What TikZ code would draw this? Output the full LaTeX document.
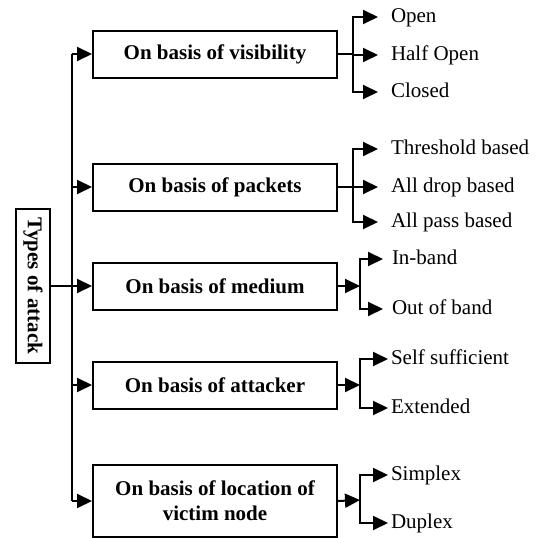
\documentclass[tikz,border=0pt]{standalone}
\usepackage{fontspec}
\setmainfont{Liberation Serif}
\usetikzlibrary{arrows.meta}
\begin{document}
\begin{tikzpicture}[x=1pt,y=-1pt,line width=2pt,
  tip/.style={-{Triangle[length=15pt,width=14pt]}},
  cat/.style={draw,line width=2pt,minimum width=244pt,minimum height=47pt,inner sep=0pt,
    align=center,font=\bfseries\fontsize{21}{25}\selectfont},
  leaf/.style={anchor=west,inner sep=0pt,text height=14pt,text depth=3pt,
    font=\fontsize{21}{25}\selectfont}]
\useasboundingbox (0,0) rectangle (542,538);

% root and categories
\node[draw,line width=2pt,rotate=-90,minimum width=154pt,minimum height=34pt,inner sep=0pt,
  font=\bfseries\fontsize{21}{25}\selectfont] (root) at (33,286) {Types of attack};
\node[cat] (vis) at (215,54) {On basis of visibility};
\node[cat] (pkt) at (215,187) {On basis of packets};
\node[cat] (med) at (215,286) {On basis of medium};
\node[cat] (att) at (215,385) {On basis of attacker};
\node[cat,minimum height=72pt] (loc) at (215,501) {On basis of location of\\victim node};

% leaves
\node[leaf] (v1) at (390,17) {Open};
\node[leaf] (v2) at (390,55) {Half Open};
\node[leaf] (v3) at (390,92) {Closed};
\node[leaf] (p1) at (390,149) {Threshold based};
\node[leaf] (p2) at (390,187) {All drop based};
\node[leaf] (p3) at (390,222) {All pass based};
\node[leaf] (m1) at (391,259) {In-band};
\node[leaf] (m2) at (391,309) {Out of band};
\node[leaf] (a1) at (390,359) {Self sufficient};
\node[leaf] (a2) at (390,408) {Extended};
\node[leaf] (l1) at (390,475) {Simplex};
\node[leaf] (l2) at (390,523) {Duplex};

% trunk on the left
\coordinate (tx) at (72,0);
\draw (tx |- vis.west) -- (tx |- loc.west);
\draw[tip] (root.north) -- (med.west);
\foreach \b in {vis,pkt,att,loc}
  \draw[tip] (tx |- \b.west) -- (\b.west);

% visibility branch
\coordinate (vb) at (353,54);
\draw (vis.east) -- (vb);
\foreach \l in {v1,v2,v3}
  \draw[tip] (vb) |- ([xshift=-12pt]\l.west);

% packets branch
\coordinate (pb) at (353,187);
\draw (pkt.east) -- (pb);
\foreach \l in {p1,p2,p3}
  \draw[tip] (pb) |- ([xshift=-12pt]\l.west);

% medium branch
\coordinate (mb) at (360,286);
\draw[tip] (med.east) -- (mb);
\foreach \l in {m1,m2}
  \draw[tip] (mb) |- ([xshift=-8pt]\l.west);

% attacker branch
\coordinate (ab) at (360,385);
\draw[tip] (att.east) -- (ab);
\foreach \l in {a1,a2}
  \draw[tip] (ab) |- ([xshift=-2pt]\l.west);

% location branch
\coordinate (lb) at (360,500);
\draw[tip] (loc.east) -- (lb);
\foreach \l in {l1,l2}
  \draw[tip] (lb) |- ([xshift=-2pt]\l.west);
\end{tikzpicture}
\end{document}
